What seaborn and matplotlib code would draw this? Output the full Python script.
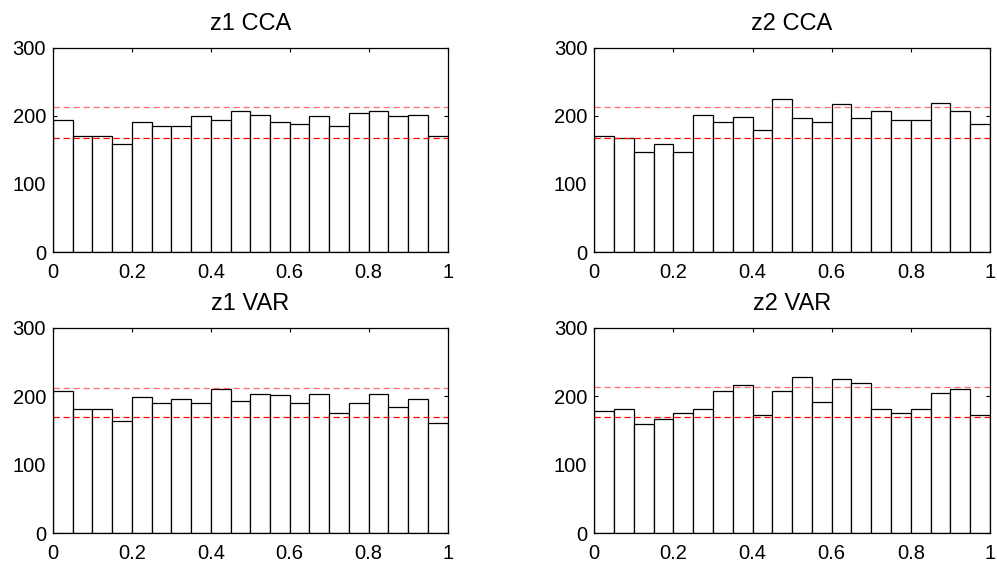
import numpy as np
import pandas as pd
import seaborn as sns
import matplotlib.pyplot as plt

# bin centres shared by all four histograms (20 bins over 0..1)
bin_centers = np.arange(0.025, 1, 0.05)

z1_cca = [194, 170, 170, 159, 191, 185, 185, 200, 194, 208,
          202, 191, 188, 200, 185, 205, 208, 200, 202, 170]
z2_cca = [170, 168, 147, 159, 147, 202, 191, 199, 179, 225,
          197, 191, 217, 197, 208, 194, 194, 219, 208, 188]
z1_var = [207, 181, 181, 164, 199, 190, 196, 190, 210, 193,
          204, 202, 190, 204, 176, 190, 204, 184, 196, 161]
z2_var = [179, 182, 159, 167, 176, 182, 208, 216, 173, 208,
          228, 191, 225, 219, 182, 176, 182, 205, 211, 173]

titles = ["z1 CCA", "z2 CCA", "z1 VAR", "z2 VAR"]
counts = [z1_cca, z2_cca, z1_var, z2_var]
# confidence band levels (lower, upper)
bands = [(168, 213), (168, 213), (170, 212.5), (170, 213)]

sns.set_style("ticks")
plt.rcParams['font.family'] = ['Liberation Sans', 'DejaVu Sans']

fig = plt.figure(figsize=(9.97, 5.62), dpi=100)
positions = [
    [0.053, 0.5516, 0.396, 0.363],
    [0.596, 0.5516, 0.397, 0.363],
    [0.053, 0.0516, 0.396, 0.365],
    [0.596, 0.0516, 0.397, 0.365],
]

for pos, title, c, (lo, hi) in zip(positions, titles, counts, bands):
    ax = fig.add_axes(pos)
    df = pd.DataFrame({"x": bin_centers, "n": c})
    sns.histplot(data=df, x="x", weights="n", bins=20, binrange=(0, 1), ax=ax,
                 color="white", edgecolor="black", linewidth=0.9, alpha=1)
    ax.axhline(hi, color="#ff3030", lw=0.9, ls=(0, (5, 3)), alpha=0.7)
    ax.axhline(lo, color="#ff0000", lw=0.9, ls=(0, (5, 3)))
    ax.set_xlim(0, 1)
    ax.set_ylim(0, 300)
    ax.set_xticks([0, 0.2, 0.4, 0.6, 0.8, 1])
    ax.set_xticklabels(["0", "0.2", "0.4", "0.6", "0.8", "1"])
    ax.set_yticks([0, 100, 200, 300])
    ax.set_xlabel("")
    ax.set_ylabel("")
    ax.tick_params(direction="in", length=3, width=0.8, labelsize=14.5,
                   top=True, right=True, colors="black", labelcolor="black")
    ax.tick_params(axis="x", pad=8)
    ax.tick_params(axis="y", pad=5)
    for s in ax.spines.values():
        s.set_visible(True)
        s.set_linewidth(0.9)
        s.set_color("black")
    ax.set_title(title, fontsize=17, pad=13, color="black")

fig.savefig("out.png", dpi=100)
